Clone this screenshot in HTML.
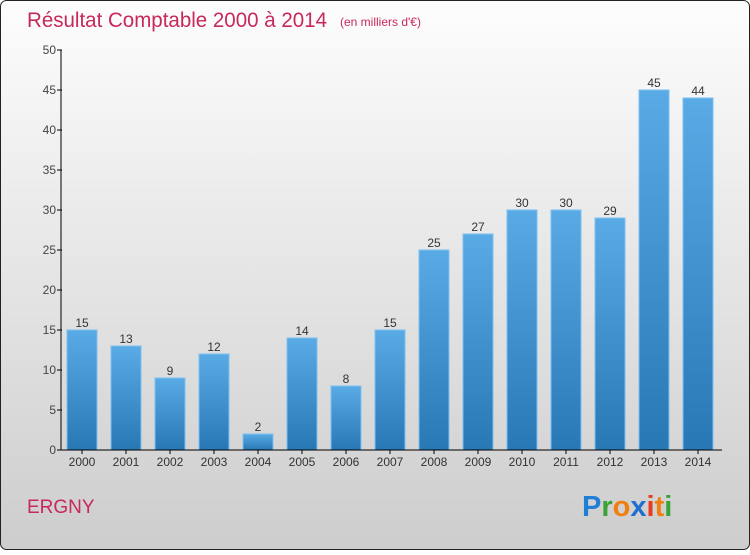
<!DOCTYPE html>
<html><head><meta charset="utf-8"><style>
body{margin:0;width:750px;height:550px;overflow:hidden;font-family:"Liberation Sans",sans-serif}
</style></head><body>
<svg id="c" width="750" height="550">
<defs>
<linearGradient id="bg" x1="0" y1="0" x2="0" y2="1"><stop offset="0" stop-color="#fdfdfd"/><stop offset="1" stop-color="#cdcdcd"/></linearGradient>
<linearGradient id="bar" x1="0" y1="0" x2="0" y2="1"><stop offset="0" stop-color="#5aaae6"/><stop offset="1" stop-color="#2778b5"/></linearGradient>
</defs>
<rect x="0.5" y="0.5" width="749" height="549" rx="6" fill="url(#bg)" stroke="#222"/>
<text x="27" y="27" font-size="21" fill="#c8285a" textLength="300" lengthAdjust="spacingAndGlyphs">Résultat Comptable 2000 à 2014</text>
<text x="340" y="26" font-size="12" fill="#c8285a">(en milliers d'€)</text>
<text x="27" y="513" font-size="19" fill="#c8285a">ERGNY</text>
<g font-size="29" font-weight="bold">
<text x="582" y="516"><tspan fill="#1f7fd6">P</tspan><tspan fill="#3aa335">r</tspan><tspan fill="#f07f10">o</tspan><tspan fill="#1f6fcf">x</tspan><tspan fill="#e83a20">i</tspan><tspan fill="#f07f10">t</tspan><tspan fill="#3aa335">i</tspan></text>
</g>
<g id="plot"></g>
</svg>
<script>
const years=["2000","2001","2002","2003","2004","2005","2006","2007","2008","2009","2010","2011","2012","2013","2014"];
const values=[15,13,9,12,2,14,8,15,25,27,30,30,29,45,44];
const yTicks=[0,5,10,15,20,25,30,35,40,45,50];
const NS="http://www.w3.org/2000/svg",g=document.getElementById('plot');
const y=v=>450-v*8, x=i=>82+i*44;
function el(t,a,txt){const e=document.createElementNS(NS,t);for(const k in a)e.setAttribute(k,a[k]);if(txt!=null)e.textContent=txt;g.appendChild(e);return e;}
values.forEach((v,i)=>{
 const r=el('rect',{x:x(i)-15,y:y(v),width:30,height:v*8,fill:'url(#bar)',stroke:'#7cc0f0','stroke-width':1});
 
 
 const t=el('text',{x:x(i),y:y(v)-3,'text-anchor':'middle','font-size':12,fill:'#333'},v);
 
 
 const xl=el('text',{x:x(i),y:466,'text-anchor':'middle','font-size':12,fill:'#333'},years[i]);
 
 
 const tk=el('line',{x1:x(i),x2:x(i),y1:450,y2:454,stroke:'#000'});
 
 
});
yTicks.forEach(v=>{
 const l=el('line',{x1:57,x2:62,y1:y(v),y2:y(v),stroke:'#000'});
 
 
 const t=el('text',{x:56,y:y(v)+4,'text-anchor':'end','font-size':12,fill:'#444'},v);
 
 
});
const ya=el('line',{x1:61,x2:61,y1:50,y2:450,stroke:'#000'});


const xa=el('line',{x1:61,x2:722,y1:450,y2:450,stroke:'#000'});


</script>
</body></html>
